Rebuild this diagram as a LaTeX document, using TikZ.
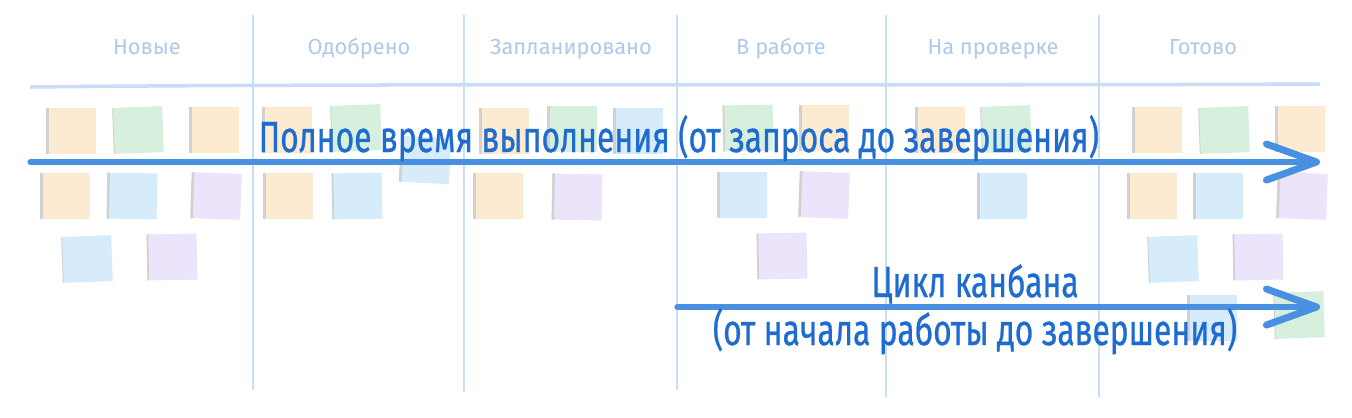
\documentclass[tikz,border=0pt]{standalone}
\usepackage{fontspec}
\usepackage{graphicx}
\setmainfont{Fira Sans}
\newfontfamily\labelfont[FakeBold=0.8]{Fira Sans}
\usetikzlibrary{arrows.meta}

\definecolor{noteorange}{HTML}{FCEBD0}
\definecolor{notegreen}{HTML}{D7F0DE}
\definecolor{noteblue}{HTML}{D6ECFA}
\definecolor{notepurple}{HTML}{ECE4FA}
\definecolor{boardline}{HTML}{CADDF7}
\definecolor{headtext}{HTML}{AFC8EB}
\definecolor{flowblue}{HTML}{4A90E2}
\definecolor{labelblue}{HTML}{1F6CD0}

\newcommand{\squeeze}[1]{\scalebox{0.73}[1]{#1}}

\tikzset{
  note/.style={minimum width=5mm, minimum height=4.6mm, inner sep=0pt, fill=#1,
    path picture={\fill[black!18] (path picture bounding box.north west)
      rectangle ([xshift=0.25mm]path picture bounding box.south west);}},
  colhead/.style={anchor=base, text=headtext, font=\fontsize{6.2pt}{7pt}\selectfont},
  divider/.style={draw=boardline, line width=0.6pt},
  flow/.style={draw=flowblue, line width=1.45pt, line cap=round,
    -{Straight Barb[length=5mm, width=3.6mm, line width=2pt, round]}},
  flowlabel/.style={text=labelblue, inner sep=0pt, font=\labelfont\fontsize{12.4pt}{14pt}\selectfont}
}

\begin{document}
\begin{tikzpicture}[x=0.1mm, y=-0.1mm]

\useasboundingbox[fill=white] (0,0) rectangle (1352,417);

% board
\draw[divider] (253,15) -- (253,390);
\draw[divider] (464,15) -- (464,392);
\draw[divider] (677,15) -- (677,390);
\draw[divider] (886,15) -- (886,397);
\draw[divider] (1099,15) -- (1099,397);
\draw[draw=boardline, line width=1pt] (30,87) .. controls (400,83) and (900,86) .. (1320,84);

\node[colhead] (new) at (147,54) {Новые};
\node[colhead] (approved) at (359,54) {Одобрено};
\node[colhead] (planned) at (571,54) {Запланировано};
\node[colhead] (inwork) at (781,54) {В работе};
\node[colhead] (review) at (993,54) {На проверке};
\node[colhead] (done) at (1203,54) {Готово};

% stickers, first row
\node[note=noteorange] (a1) at (71,131) {};
\node[note=notegreen, rotate=2] (a2) at (138,130) {};
\node[note=noteorange] (a3) at (214,130) {};
\node[note=noteorange] (a4) at (287,130) {};
\node[note=notegreen, rotate=2] (a5) at (356,128) {};
\node[note=noteorange] (a6) at (504,131) {};
\node[note=notegreen] (a7) at (572,129) {};
\node[note=noteblue] (a8) at (638,131) {};
\node[note=notegreen, rotate=1] (a9) at (748,128) {};
\node[note=noteorange] (a10) at (824,128) {};
\node[note=noteorange] (a11) at (940,130) {};
\node[note=notegreen, rotate=2] (a12) at (1006,129) {};
\node[note=noteorange] (a13) at (1157,130) {};
\node[note=notegreen, rotate=2] (a14) at (1224,130) {};
\node[note=noteorange] (a15) at (1300,129) {};

% second row
\node[note=noteorange] (b1) at (65,196) {};
\node[note=noteblue, rotate=-1] (b2) at (132,196) {};
\node[note=notepurple, rotate=-2] (b3) at (216,196) {};
\node[note=noteorange] (b4) at (288,196) {};
\node[note=noteblue, rotate=1] (b5) at (357,196) {};
\node[note=noteblue, rotate=-3] (b6) at (425,160) {};
\node[note=noteorange] (b7) at (498,196) {};
\node[note=notepurple, rotate=-1] (b8) at (577,197) {};
\node[note=noteblue] (b9) at (742,195) {};
\node[note=notepurple, rotate=-2] (b10) at (824,195) {};
\node[note=noteblue] (b11) at (1002,196) {};
\node[note=noteorange] (b12) at (1152,196) {};
\node[note=noteblue] (b13) at (1218,196) {};
\node[note=notepurple, rotate=-2] (b14) at (1302,196) {};

% third and fourth rows
\node[note=noteblue, rotate=2] (c1) at (87,259) {};
\node[note=notepurple, rotate=1] (c2) at (172,257) {};
\node[note=notepurple, rotate=1] (c3) at (782,256) {};
\node[note=noteblue, rotate=2] (c4) at (1173,259) {};
\node[note=notepurple, rotate=1] (c5) at (1258,257) {};
\node[note=noteblue] (d1) at (1212,318) {};
\node[note=notegreen, rotate=2] (d2) at (1299,315) {};

% lead time
\coordinate (lead0) at (30,162);
\coordinate (lead1) at (1320,162);
\draw[flow] (lead0) -- (lead1);
\node[flowlabel, anchor=base west] (leadtext) at (258,152)
  {\squeeze{Полное время выполнения (от запроса до завершения)}};

% cycle time
\coordinate (cycle0) at (677,307);
\coordinate (cycle1) at (1320,307);
\draw[flow] (cycle0) -- (cycle1);
\node[flowlabel, anchor=base] (cycletext) at (975,297) {\squeeze{Цикл канбана}};
\node[flowlabel, anchor=base] (cyclenote) at (975,345)
  {\squeeze{(от начала работы до завершения)}};

\end{tikzpicture}
\end{document}
